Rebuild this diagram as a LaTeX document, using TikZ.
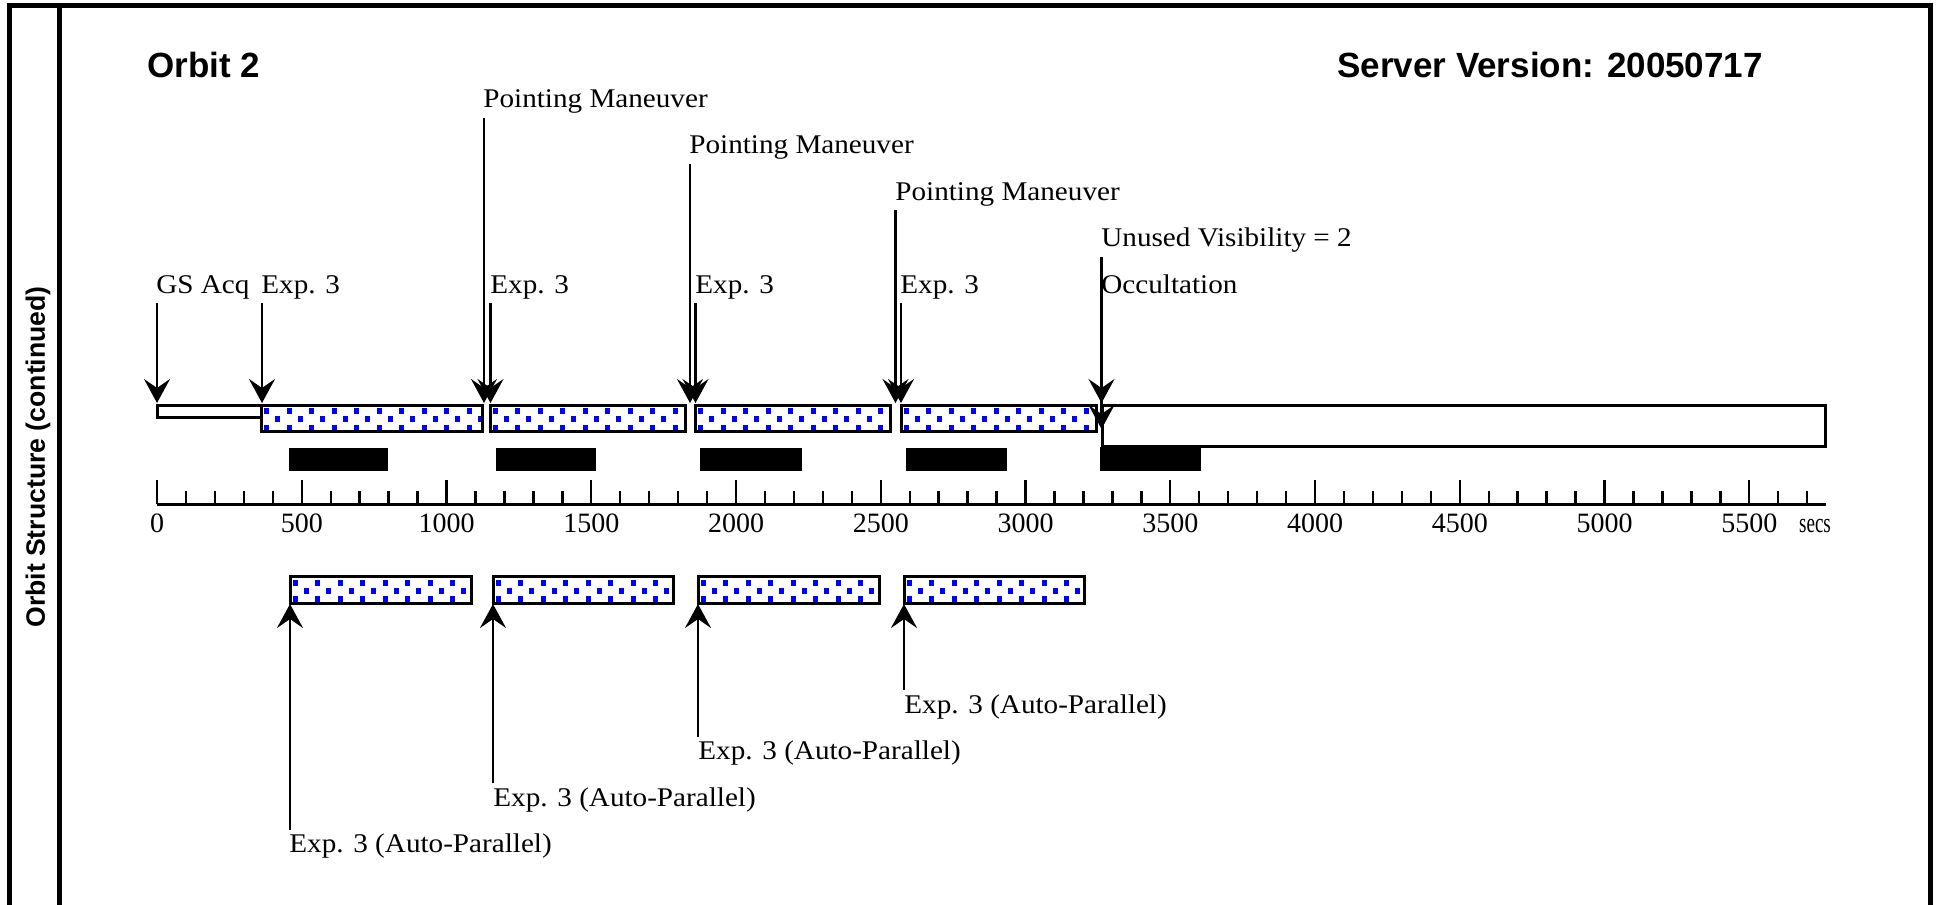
\documentclass[tikz,border=0pt]{standalone}
\usepackage{fontspec}
\usepackage{graphicx}
\setmainfont{Liberation Serif}
\newfontfamily\lblfont[FakeStretch=1.08]{Liberation Serif}
\newfontfamily\titlefont{Liberation Sans}
\usetikzlibrary{arrows.meta}
\definecolor{dotblue}{RGB}{0,0,255}
\tikzset{
  frameline/.style={line width=2.5pt, line cap=rect},
  barline/.style={draw=black, line width=1.5pt},
  emptybar/.style={barline, fill=white},
  blackbar/.style={fill=black},
  arr/.style={line width=1.1pt, -{Stealth[length=12pt,width=13pt,inset=4.5pt]}},
  lbl/.style={font=\lblfont\fontsize{13.5pt}{16pt}\selectfont, inner sep=0pt, anchor=base west},
  ticklbl/.style={font=\fontsize{14pt}{16pt}\selectfont, inner sep=0pt, anchor=base},
  titletext/.style={font=\titlefont\bfseries\fontsize{17.5pt}{20pt}\selectfont, inner sep=0pt, anchor=base west},
  axisline/.style={line width=1.5pt},
  tickline/.style={line width=1.2pt},
}
% dotted bar: x1 y1 x2 y2
\newcommand{\dotbar}[4]{%
  \begin{scope}
    \clip (#1,#2) rectangle (#3,#4);
    \fill[white] (#1,#2) rectangle (#3,#4);
    \foreach \r in {0,...,3}{
      \foreach \c in {0,...,11}{
        \fill[dotblue] ({#1+2.5+\c*22.5+mod(\r,2)*11.25},{#2+3+\r*8.3}) rectangle ++(5,6);
      }
    }
  \end{scope}
  \draw[barline] (#1,#2) rectangle (#3,#4);
}
\newcommand{\evarrow}[4]{%
  \coordinate (#1s) at (#2,#3);
  \coordinate (#1t) at (#2,#4);
  \draw[arr] (#1s) -- (#1t);
}
\begin{document}
\begin{tikzpicture}[x=0.5pt,y=-0.5pt]
\useasboundingbox (0,0) rectangle (1939,905);
\fill[white] (0,0) rectangle (1939,905);

% frame
\draw[frameline] (9,905) -- (9,5) -- (1930,5) -- (1930,905);
\draw[frameline] (59,5) -- (59,905);
\node[font=\titlefont\bfseries\fontsize{13.3pt}{16pt}\selectfont, rotate=90] (side) at (38,457) {Orbit Structure (continued)};

% titles
\node[titletext] (orbit) at (147,77) {Orbit 2};
\node[titletext] (server) at (1337,77) {Server Version: 20050717};

% top row bars
\draw[emptybar] (157.5,405) rectangle (261.5,417);
\dotbar{261.5}{405}{482}{431}
\dotbar{490}{405}{685}{431}
\dotbar{695.5}{405}{890}{431}
\dotbar{901}{405}{1096}{431}
\draw[emptybar] (1102,405) rectangle (1825,446);

% black bars
\fill[blackbar] (289,448) rectangle (387.5,471);
\fill[blackbar] (495.5,448) rectangle (596,471);
\fill[blackbar] (700,448) rectangle (802,471);
\fill[blackbar] (906,448) rectangle (1007,471);
\fill[blackbar] (1100,447) rectangle (1201,471);

% axis
\draw[axisline] (157,504) -- (1826,504);
\foreach \i in {0,...,57}{
  \pgfmathsetmacro{\tx}{157+28.95*\i}
  \pgfmathtruncatemacro{\ismaj}{mod(\i,5)==0 ? 1 : 0}
  \ifnum\ismaj=1
    \draw[tickline] (\tx,504) -- (\tx,480);
  \else
    \draw[tickline] (\tx,504) -- (\tx,491);
  \fi
}
\foreach \v [count=\k from 0] in {0,500,1000,1500,2000,2500,3000,3500,4000,4500,5000,5500}{
  \node[ticklbl] (tl\k) at ({157+144.75*\k},532) {\v};
}
\node[ticklbl] (secs) at (1815,532) {\scalebox{0.68}[1]{secs}};

% bottom row bars
\dotbar{290}{576.5}{471}{603}
\dotbar{493}{576.5}{673}{603}
\dotbar{698}{576.5}{879}{603}
\dotbar{904}{576.5}{1084}{603}

% top labels
\node[lbl] (pm1) at (483,107.5) {Pointing Maneuver};
\node[lbl] (pm2) at (689,153.5) {Pointing Maneuver};
\node[lbl] (pm3) at (895,200) {Pointing Maneuver};
\node[lbl] (uv) at (1101,246.5) {Unused Visibility = 2};
\node[lbl] (gs) at (156,293) {GS Acq};
\node[lbl] (e1) at (261,293) {Exp. 3};
\node[lbl] (e2) at (490,293) {Exp. 3};
\node[lbl] (e3) at (695,293) {Exp. 3};
\node[lbl] (e4) at (900,293) {Exp. 3};
\node[lbl] (occ) at (1101,293) {Occultation};

% top arrows
\evarrow{gsa}{157}{303}{403}
\evarrow{e1a}{262}{303}{403}
\evarrow{pm1a}{484}{118}{403}
\evarrow{e2a}{490.5}{303}{403}
\evarrow{pm2a}{690}{164}{403}
\evarrow{e3a}{695.5}{303}{403}
\evarrow{pm3a}{895.5}{210}{403}
\evarrow{e4a}{901}{303}{403}
\evarrow{uva}{1101.5}{257}{403}
\evarrow{occa}{1101.5}{303}{429}

% bottom labels
\node[lbl] (ap4) at (904,713) {Exp. 3 (Auto-Parallel)};
\node[lbl] (ap3) at (698,759.5) {Exp. 3 (Auto-Parallel)};
\node[lbl] (ap2) at (493,806) {Exp. 3 (Auto-Parallel)};
\node[lbl] (ap1) at (289,852) {Exp. 3 (Auto-Parallel)};

% bottom arrows
\evarrow{ap1a}{290}{830}{604}
\evarrow{ap2a}{493}{783}{604}
\evarrow{ap3a}{698}{737}{604}
\evarrow{ap4a}{904}{690}{604}
\end{tikzpicture}
\end{document}
